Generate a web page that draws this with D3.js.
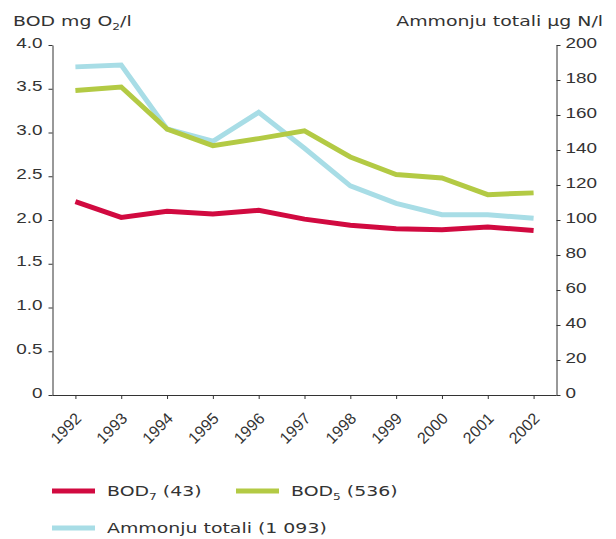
<!DOCTYPE html>
<html>
<head>
<meta charset="utf-8">
<script src="https://cdn.jsdelivr.net/npm/d3@7"></script>
<style>
  html, body { margin: 0; padding: 0; background: #fff; }
  svg { display: block; font-family: "DejaVu Sans", Verdana, sans-serif; }
  .axis path, .axis line { stroke: #333; }
  .axis text { fill: #333; font-size: 14px; }
</style>
</head>
<body>
<svg id="chart" width="616" height="539"></svg>
<script>
// Years on the x axis
const years = ["1992","1993","1994","1995","1996","1997","1998","1999","2000","2001","2002"];
// BOD7, mg O2/l (left axis)
const bod7 = [2.21, 2.03, 2.10, 2.07, 2.11, 2.01, 1.94, 1.90, 1.89, 1.92, 1.88];
// BOD5, mg O2/l (left axis)
const bod5 = [3.48, 3.52, 3.04, 2.85, 2.93, 3.02, 2.72, 2.52, 2.48, 2.29, 2.31];
// Total ammonium, µg N/l (right axis)
const ammonium = [187.5, 188.5, 152, 145, 161.5, 141, 119.5, 109.5, 103, 103, 101];
// Tick labels
const leftTicks = [0, 0.5, 1.0, 1.5, 2.0, 2.5, 3.0, 3.5, 4.0];
const rightTicks = [0, 20, 40, 60, 80, 100, 120, 140, 160, 180, 200];

const svg = d3.select("#chart");
const plotLeft = 52.5, plotRight = 556.5, plotTop = 45, plotBottom = 395;
const SX = 1.35;   // wide lettering: horizontal stretch applied to horizontal text

const x = d3.scalePoint().domain(years).range([plotLeft, plotRight]).padding(0.5);
const yL = d3.scaleLinear().domain([0, 4]).range([plotBottom, plotTop]);
const yR = d3.scaleLinear().domain([0, 200]).range([plotBottom, plotTop]);

// Axes
const xAxis = svg.append("g").attr("class", "axis")
  .attr("transform", `translate(0,${plotBottom})`)
  .call(d3.axisBottom(x).tickSize(4).tickSizeOuter(0));
xAxis.select(".domain").attr("d", `M${plotLeft},0.5H${plotRight}`);
xAxis.selectAll("text")
  .attr("text-anchor", "end")
  .style("font-size", "16px")
  .attr("transform", "translate(6.5,24.5) rotate(-45)")
  .attr("x", 0).attr("y", 0).attr("dx", 0).attr("dy", 0);

const yAxisL = svg.append("g").attr("class", "axis")
  .attr("transform", `translate(${plotLeft},0)`)
  .call(d3.axisLeft(yL).tickValues(leftTicks).tickSize(4).tickSizeOuter(0)
    .tickFormat(d => d === 0 ? "0" : d3.format(".1f")(d)));
yAxisL.selectAll("text")
  .attr("x", 0).attr("dy", "0.15em")
  .attr("transform", `translate(-10,0) scale(${SX},1)`);

const yAxisR = svg.append("g").attr("class", "axis")
  .attr("transform", `translate(${plotRight},0)`)
  .call(d3.axisRight(yR).tickValues(rightTicks).tickSize(4).tickSizeOuter(0));
yAxisR.selectAll("text")
  .attr("x", 0).attr("dy", "0.15em")
  .attr("transform", `translate(9,0) scale(${SX},1)`);

// Text with a subscript, stretched horizontally about its anchor
function label(g, x0, y0, parts, anchor) {
  const t = g.append("text")
    .attr("transform", `translate(${x0},${y0}) scale(${SX},1)`)
    .attr("text-anchor", anchor || "start");
  t.append("tspan").text(parts[0]);
  if (parts.length > 1) {
    t.append("tspan").text(parts[1]).attr("dy", 4).style("font-size", "9px");
    t.append("tspan").text(parts[2]).attr("dy", -4);
  }
  return t;
}

// Axis titles
const title = svg.append("g").attr("fill", "#333").style("font-size", "14px");
label(title, 13, 26, ["BOD mg O", "2", "/l"]);
label(title, 603, 26, ["Ammonju totali µg N/l"], "end");

// Lines
const series = [
  { values: ammonium, scale: yR, color: "#a8dde6" },
  { values: bod5, scale: yL, color: "#b3ca44" },
  { values: bod7, scale: yL, color: "#d10a40" }
];
series.forEach(s => {
  const line = d3.line().x((d, i) => x(years[i])).y(d => s.scale(d));
  svg.append("path").datum(s.values)
    .attr("d", line)
    .attr("fill", "none")
    .attr("stroke", s.color)
    .attr("stroke-width", 5)
    .attr("stroke-linejoin", "miter");
});

// Legend
const legend = svg.append("g").attr("fill", "#333").style("font-size", "14px");
const items = [
  { x: 52, y: 491, color: "#d10a40", label: ["BOD", "7", " (43)"] },
  { x: 236, y: 491, color: "#b3ca44", label: ["BOD", "5", " (536)"] },
  { x: 52, y: 528, color: "#a8dde6", label: ["Ammonju totali (1 093)"] }
];
items.forEach(it => {
  legend.append("line")
    .attr("x1", it.x).attr("x2", it.x + 43)
    .attr("y1", it.y).attr("y2", it.y)
    .attr("stroke", it.color).attr("stroke-width", 5);
  label(legend, it.x + 55, it.y + 5, it.label);
});
</script>
</body>
</html>
